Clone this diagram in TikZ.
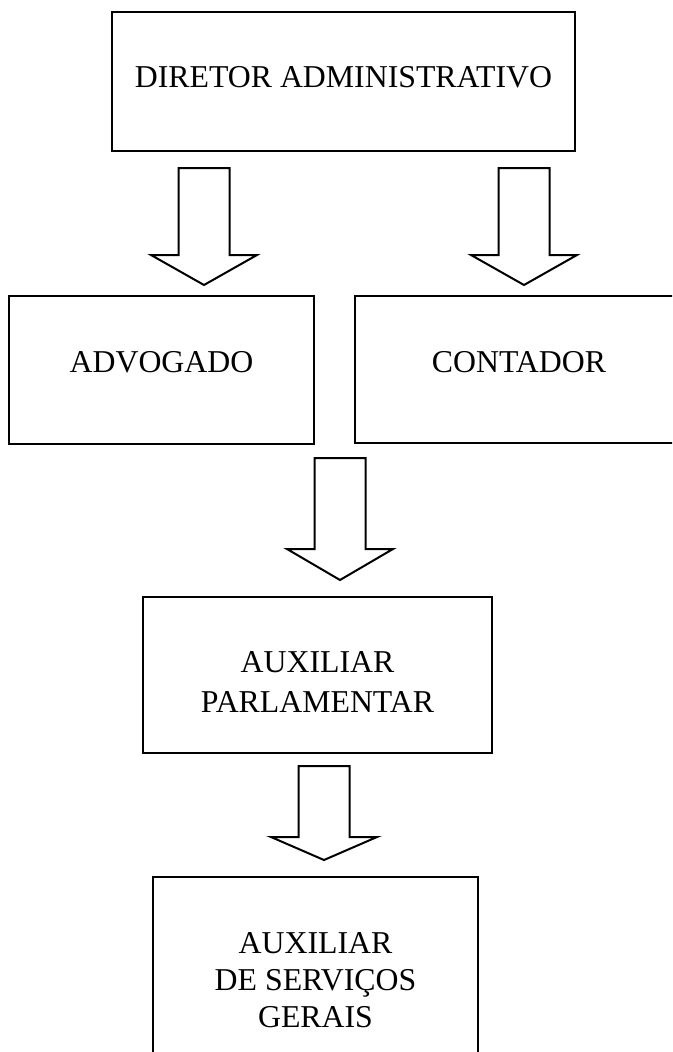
\documentclass[tikz,border=0pt]{standalone}
\usepackage{fontspec}
\setmainfont{Liberation Serif}
\usepackage{tikz}
\usetikzlibrary{positioning,calc}
\newcommand{\blockarr}[4]{%
\draw[hollow] (#1-25.5,#2) -- (#1+25.5,#2) -- (#1+25.5,#3) -- (#1+53,#3)
 -- (#1,#4) -- (#1-53,#3) -- (#1-25.5,#3) -- cycle;}

\begin{document}
\begin{tikzpicture}
 [x=1pt,y=-1pt,
box/.style={draw,line width=1.5pt,rectangle,inner sep=0pt},
txt/.style={align=center,inner sep=0pt,font=\fontsize{31.8}{#1}\selectfont},
txt/.default=38,
hollow/.style={draw,line width=2pt,fill=white,line join=miter}]
\useasboundingbox (0,0) rectangle (672,1052);
\clip (0,0) rectangle (672,1052);

\node (dir) at (343.5,81.5) [box,minimum width=463pt,minimum height=139pt,
 label={[txt,yshift=4pt]center:DIRETOR ADMINISTRATIVO}] {};
\node (adv) at (161.5,370) [box,minimum width=305pt,minimum height=148pt,
 label={[txt,yshift=8pt]center:ADVOGADO}] {};
\node (cont) at (519,369.5) [box,minimum width=328pt,minimum height=147pt,
 label={[txt,yshift=7pt]center:CONTADOR}] {};
\node (parl) at (317.5,675) [box,minimum width=349pt,minimum height=156pt,
 label={[txt=40,yshift=-7pt]center:AUXILIAR\\PARLAMENTAR}] {};
\node (serv) at (315.5,980) [box,minimum width=325pt,minimum height=206pt,
 label={[txt=37]center:AUXILIAR\\DE SERVIÇOS\\GERAIS}] {};

\blockarr{204}{168}{255}{285}
\blockarr{524}{168}{255}{285}
\blockarr{340}{458}{549}{580}
\blockarr{324}{766}{837}{860}
\end{tikzpicture}
\end{document}
